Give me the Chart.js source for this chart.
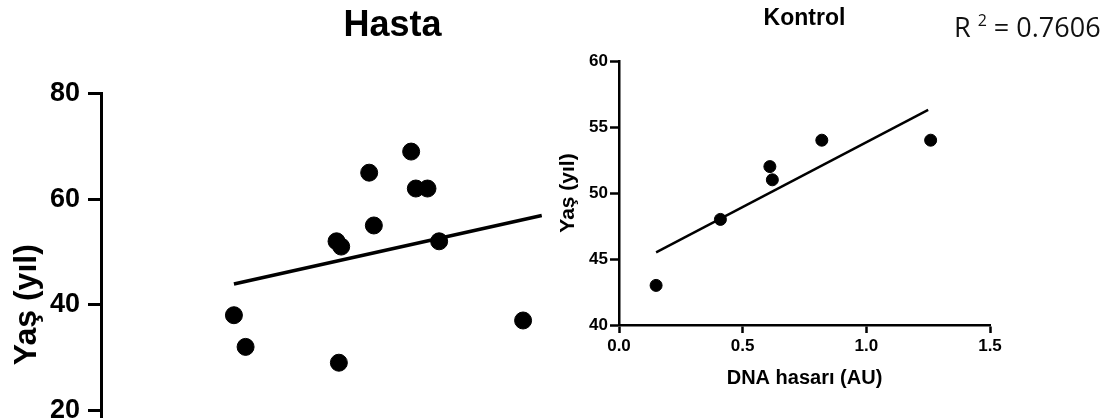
<!DOCTYPE html>
<html lang="tr">
<head>
  <meta charset="UTF-8">
  <title>Hasta / Kontrol</title>
  <script src="https://cdn.jsdelivr.net/npm/chart.js"></script>
  <style>
    body {
      margin: 0;
      overflow: hidden;
      background: #fff;
      width: 1117px;
      height: 418px;
      position: relative;
    }
    #hasta {
      position: absolute;
      left: 0;
      top: 0;
    }
    #kontrol-box {
      position: absolute;
      left: 542px;
      top: 0;
      width: 575px;
      height: 418px;
      background: #fff;
    }
    #kontrol {
      position: absolute;
      left: 0;
      top: 0;
    }
    #r2 {
      position: absolute;
      left: 954px;
      top: 13px;
      font-family: "Open Sans", "Noto Sans", sans-serif;
      font-size: 27px;
      line-height: 27px;
      color: #111;
      white-space: nowrap;
    }
    #r2 sup {
      font-size: 16px;
      vertical-align: 11px;
      line-height: 0;
    }
  </style>
</head>
<body>
  <canvas id="hasta" width="700" height="540"></canvas>
  <div id="kontrol-box">
    <canvas id="kontrol" width="470" height="400"></canvas>
  </div>
  <div id="r2">R&nbsp;<sup>2</sup>&nbsp;= 0.7606</div>

  <script>
    // Hasta (x ekseni resimde görünmüyor, değerler tahmini)
    const hastaX = [0.57, 0.62, 1.01, 1.03, 1.02, 1.15, 1.17, 1.33, 1.35, 1.40, 1.45, 1.81];
    const hastaY = [38, 32, 52, 51, 29, 65, 55, 69, 62, 62, 52, 37];
    const hastaFitX = [0.57, 1.89];
    const hastaFitY = [43.9, 56.9];

    // Kontrol
    const kontrolX = [0.15, 0.41, 0.61, 0.62, 0.82, 1.26];
    const kontrolY = [43, 48, 52, 51, 54, 54];
    const kontrolFitX = [0.15, 1.25];
    const kontrolFitY = [45.5, 56.3];

    const yTicksHasta = [0, 20, 40, 60, 80];
    const yTicksKontrol = [40, 45, 50, 55, 60];
    const xTicksKontrol = [0.0, 0.5, 1.0, 1.5];

    function pts(xs, ys) {
      return xs.map((x, i) => ({ x: x, y: ys[i] }));
    }

    const arialB = "'Liberation Sans', Arial, sans-serif";

    // Sol grafik
    new Chart(document.getElementById('hasta'), {
      type: 'scatter',
      data: {
        datasets: [
          {
            data: pts(hastaX, hastaY),
            backgroundColor: '#000',
            borderColor: '#000',
            pointRadius: 8.5,
            pointHoverRadius: 8.5
          },
          {
            data: pts(hastaFitX, hastaFitY),
            showLine: true,
            borderColor: '#000',
            borderWidth: 3.5,
            pointRadius: 0
          }
        ]
      },
      options: {
        responsive: false,
        animation: false,
        events: [],
        layout: { padding: { left: 0, right: 16, top: 0, bottom: 20 } },
        plugins: {
          legend: { display: false },
          tooltip: { enabled: false },
          title: {
            display: true,
            text: 'Hasta',
            fullSize: false,
            color: '#000',
            font: { family: arialB, size: 36, weight: 'bold', lineHeight: 1.2 },
            padding: { top: 4, bottom: 46.3 }
          }
        },
        scales: {
          x: {
            type: 'linear',
            display: false,
            min: 0,
            max: 2.5
          },
          y: {
            min: 0,
            max: 80,
            afterFit: s => { s.width = 101; },
            afterBuildTicks: s => { s.ticks = yTicksHasta.map(v => ({ value: v })); },
            border: { display: true, color: '#000', width: 3 },
            grid: {
              drawOnChartArea: false,
              drawTicks: true,
              tickLength: 13,
              tickWidth: 3,
              tickColor: '#000'
            },
            ticks: {
              color: '#000',
              padding: 8,
              font: { family: arialB, size: 27, weight: 'bold' }
            },
            title: {
              display: true,
              text: 'Yaş (yıl)',
              color: '#000',
              font: { family: arialB, size: 32, weight: 'bold', lineHeight: 1.2 },
              padding: { top: 8, bottom: 0 }
            }
          }
        }
      }
    });

    // Sağ grafik
    new Chart(document.getElementById('kontrol'), {
      type: 'scatter',
      data: {
        datasets: [
          {
            data: pts(kontrolX, kontrolY),
            backgroundColor: '#000',
            borderColor: '#000',
            pointRadius: 6,
            pointHoverRadius: 6
          },
          {
            data: pts(kontrolFitX, kontrolFitY),
            showLine: true,
            borderColor: '#000',
            borderWidth: 2.4,
            pointRadius: 0
          }
        ]
      },
      options: {
        responsive: false,
        animation: false,
        events: [],
        layout: { padding: { left: 0, right: 22, top: 0, bottom: 5 } },
        plugins: {
          legend: { display: false },
          tooltip: { enabled: false },
          title: {
            display: true,
            text: 'Kontrol',
            fullSize: false,
            color: '#000',
            font: { family: arialB, size: 23, weight: 'bold', lineHeight: 1.2 },
            padding: { top: 5, bottom: 28.4 }
          }
        },
        scales: {
          x: {
            type: 'linear',
            min: 0,
            max: 1.5,
            afterFit: s => { s.height = 70; },
            afterBuildTicks: s => { s.ticks = xTicksKontrol.map(v => ({ value: v })); },
            border: { display: true, color: '#000', width: 2.5 },
            grid: {
              drawOnChartArea: false,
              drawTicks: true,
              tickLength: 8,
              tickWidth: 2.5,
              tickColor: '#000'
            },
            ticks: {
              color: '#000',
              padding: 3,
              font: { family: arialB, size: 17, weight: 'bold' },
              callback: v => Number(v).toFixed(1)
            },
            title: {
              display: true,
              text: 'DNA hasarı (AU)',
              color: '#000',
              font: { family: arialB, size: 20, weight: 'bold', lineHeight: 1.2 },
              padding: { top: 0, bottom: 5 }
            }
          },
          y: {
            min: 40,
            max: 60,
            afterFit: s => { s.width = 77; },
            afterBuildTicks: s => { s.ticks = yTicksKontrol.map(v => ({ value: v })); },
            border: { display: true, color: '#000', width: 2.5 },
            grid: {
              drawOnChartArea: false,
              drawTicks: true,
              tickLength: 9,
              tickWidth: 2.5,
              tickColor: '#000'
            },
            ticks: {
              color: '#000',
              padding: 2,
              font: { family: arialB, size: 17, weight: 'bold' }
            },
            title: {
              display: true,
              text: 'Yaş (yıl)',
              color: '#000',
              font: { family: arialB, size: 21, weight: 'bold', lineHeight: 1.2 },
              padding: { top: 14, bottom: 0 }
            }
          }
        }
      }
    });
  </script>
</body>
</html>
